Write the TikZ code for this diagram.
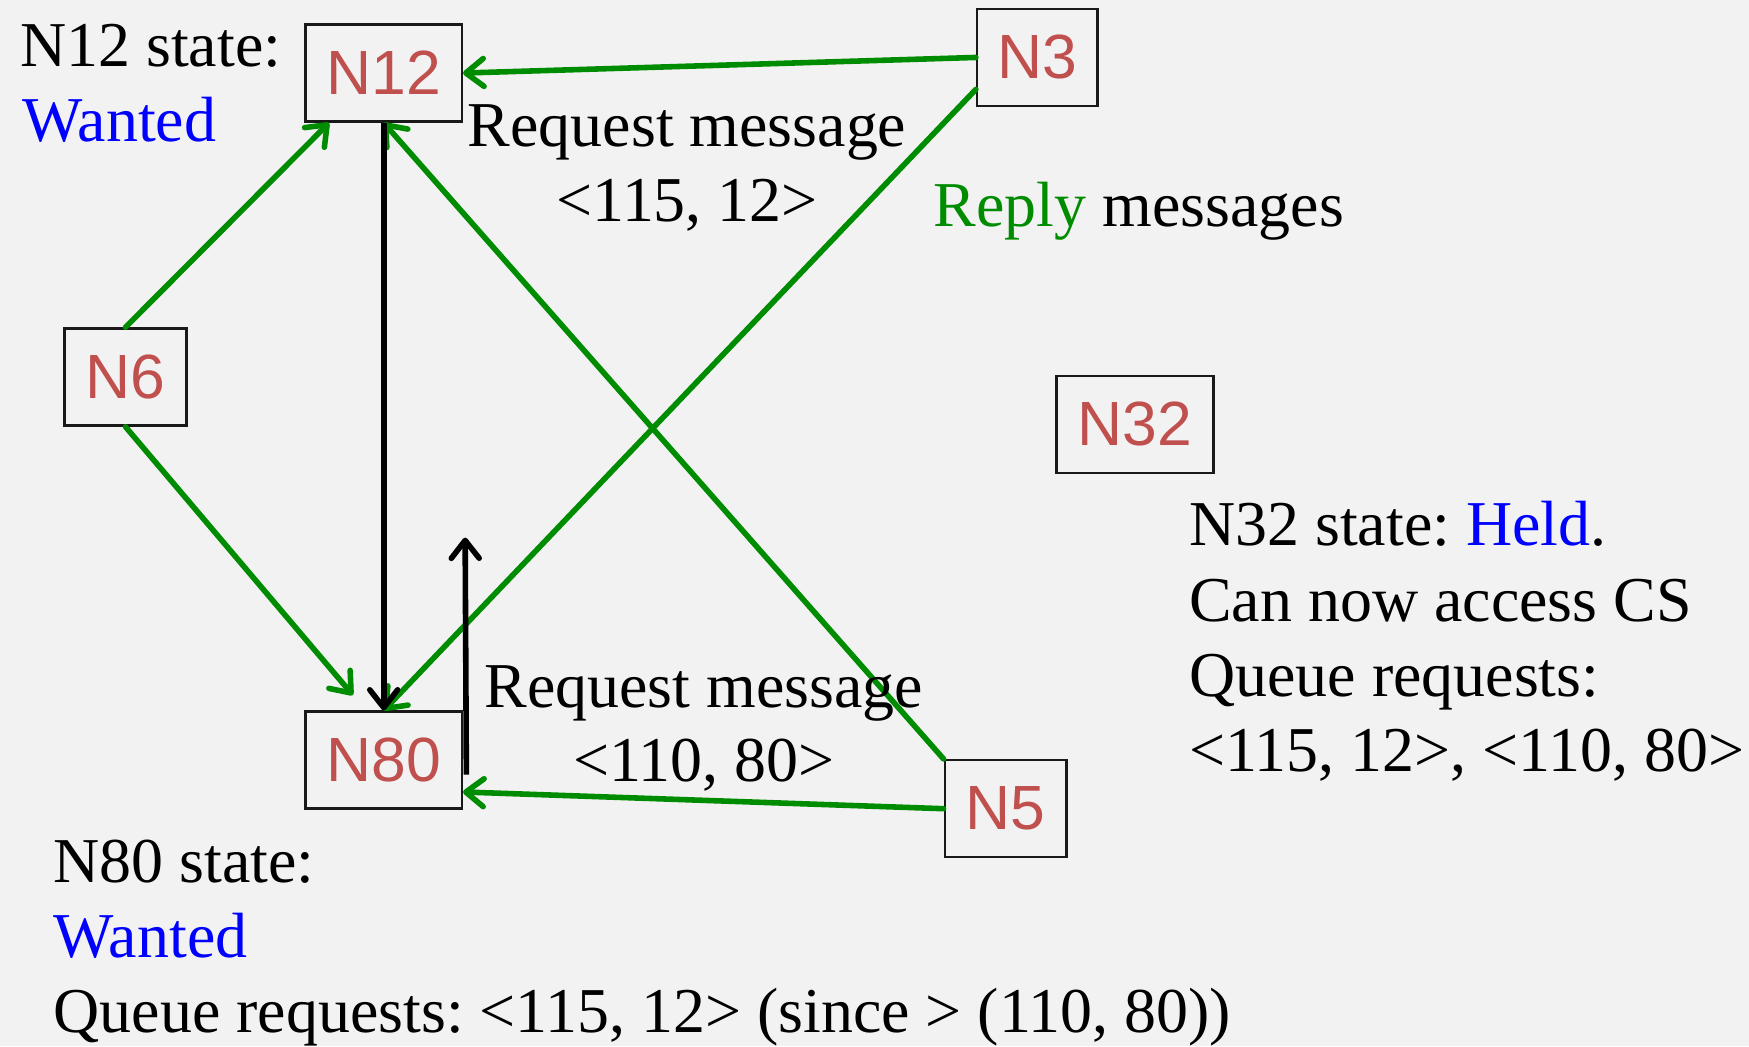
\documentclass[tikz,border=0pt]{standalone}
\usepackage{fontspec}
\setmainfont{Liberation Serif}
\newfontfamily\nodefont{Liberation Sans}
\usetikzlibrary{arrows.meta,calc}
\definecolor{bg}{RGB}{242,242,242}
\definecolor{grn}{RGB}{0,140,0}
\definecolor{nred}{RGB}{192,80,77}
\definecolor{blu}{RGB}{0,0,255}
\begin{document}
\begin{tikzpicture}[x=1pt,y=-1pt,
  procbox/.style={draw=black!90, line width=2.2pt, inner sep=0pt, minimum height=87pt,
    font=\nodefont\fontsize{56}{60}\selectfont, text=nred},
  lbl/.style={inner sep=0pt, font=\fontsize{57.3}{67.5}\selectfont\frenchspacing},
  reply/.style={draw=grn, line width=5pt, line cap=round,
    -{Straight Barb[length=16pt,width=25pt,line cap=round,line join=round]}},
  req/.style={draw=black, line width=5pt,
    -{Straight Barb[length=16pt,width=25pt,line cap=round,line join=round]}}]
\fill[bg] (0,0) rectangle (1568,938);
\useasboundingbox (0,0) rectangle (1568,938);

% process boxes
\node[procbox, minimum width=140pt] (n12) at (344,65.5) {N12};
\node[procbox, minimum width=108pt] (n3)  at (930,51.5) {N3};
\node[procbox, minimum width=109pt] (n6)  at (112.5,338) {N6};
\node[procbox, minimum width=141pt] (n32) at (1017.5,380.5) {N32};
\node[procbox, minimum width=140pt] (n80) at (344,681.5) {N80};
\node[procbox, minimum width=109pt] (n5)  at (901.5,725) {N5};

% reply messages (green)
\draw[reply] (n3.west) -- (n12.east);
\draw[reply] ([yshift=16pt]n3.south west) -- (n80.north);
\draw[reply] (n6.north) -- ([xshift=-49pt]n12.south);
\draw[reply, shorten >=18pt] (n6.south) -- ([xshift=-16pt]n80.north);
\draw[reply] (n5.north west) -- (n12.south);
\draw[reply] (n5.west) -- ([yshift=-28.5pt]n80.east);

% request messages (black)
\draw[req] (n12.south) -- (n80.north);
\coordinate (up) at (417,482);
\draw[req] ([xshift=3pt,yshift=-13pt]n80.east) -- (up);

% texts
\node[lbl, anchor=base west] (t12a) at (18,60) {N12 state:};
\node[lbl, anchor=base west, text=blu] (t12b) at (20,127) {Wanted};

\node[lbl, anchor=base] (rq1a) at (616,131.5) {Request message};
\node[lbl, anchor=base] (rq1b) at (616,199) {<115, 12>};

\node[lbl, anchor=base west] (rep) at (837,203) {\textcolor{grn}{Reply} messages};

\node[lbl, anchor=base] (rq2a) at (631,634) {Request message};
\node[lbl, anchor=base] (rq2b) at (631,701) {<110, 80>};

\node[lbl, anchor=base west] (t32a) at (1066,489) {N32 state: \textcolor{blu}{Held}.};
\node[lbl, anchor=base west] (t32b) at (1066,557) {Can now access CS};
\node[lbl, anchor=base west] (t32c) at (1066,624) {Queue requests:};
\node[lbl, anchor=base west] (t32d) at (1066,692) {<115, 12>, <110, 80>};

\node[lbl, anchor=base west] (t80a) at (48,791) {N80 state:};
\node[lbl, anchor=base west, text=blu] (t80b) at (48,858) {Wanted};
\node[lbl, anchor=base west] (t80c) at (48,926) {Queue requests: <115, 12> (since > (110, 80))};
\end{tikzpicture}
\end{document}
